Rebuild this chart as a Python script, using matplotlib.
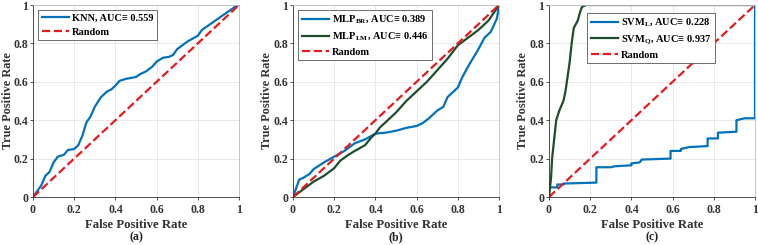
import matplotlib
matplotlib.use('Agg')
import matplotlib.pyplot as plt

plt.rcParams['font.family'] = ['Liberation Serif', 'DejaVu Serif']
plt.rcParams['font.weight'] = 'bold'
plt.rcParams['mathtext.fontset'] = 'custom'
plt.rcParams['mathtext.rm'] = 'Liberation Serif:bold'
plt.rcParams['mathtext.bf'] = 'Liberation Serif:bold'

BLUE = '#0072BD'
GREEN = '#1d4d2b'
RED = '#e8191c'

# (a) KNN
knn_fpr = [0, 0.02, 0.04, 0.06, 0.08, 0.1, 0.12, 0.15, 0.17, 0.2, 0.22, 0.24, 0.26, 0.28, 0.3,
           0.33, 0.36, 0.38, 0.4, 0.42, 0.45, 0.5, 0.52, 0.55, 0.58, 0.6, 0.63, 0.66, 0.68, 0.7,
           0.75, 0.8, 0.82, 0.86, 0.9, 0.94, 0.98, 1]
knn_tpr = [0, 0.03, 0.06, 0.11, 0.13, 0.18, 0.21, 0.22, 0.245, 0.25, 0.27, 0.32, 0.39, 0.42, 0.47,
           0.52, 0.55, 0.56, 0.58, 0.605, 0.615, 0.625, 0.64, 0.655, 0.68, 0.705, 0.725, 0.73, 0.74, 0.77,
           0.81, 0.84, 0.87, 0.9, 0.93, 0.96, 0.99, 1]

# (b) MLP
mlp_br_fpr = [0, 0.01, 0.03, 0.05, 0.08, 0.1, 0.15, 0.2, 0.25, 0.3, 0.35, 0.4, 0.45, 0.5, 0.55,
              0.6, 0.63, 0.66, 0.7, 0.73, 0.75, 0.8, 0.82, 0.85, 0.9, 0.93, 0.96, 0.99, 1]
mlp_br_tpr = [0, 0.03, 0.09, 0.1, 0.12, 0.145, 0.18, 0.21, 0.24, 0.28, 0.3, 0.33, 0.335, 0.345, 0.36,
              0.37, 0.385, 0.41, 0.45, 0.47, 0.52, 0.57, 0.62, 0.68, 0.77, 0.83, 0.86, 0.93, 1]
mlp_lm_fpr = [0, 0.05, 0.1, 0.15, 0.2, 0.23, 0.27, 0.3, 0.35, 0.38, 0.4, 0.42, 0.45, 0.5, 0.55,
              0.6, 0.65, 0.7, 0.75, 0.8, 0.85, 0.9, 0.95, 1]
mlp_lm_tpr = [0, 0.04, 0.08, 0.11, 0.15, 0.19, 0.22, 0.24, 0.27, 0.31, 0.33, 0.36, 0.39, 0.44, 0.5,
              0.55, 0.6, 0.66, 0.72, 0.79, 0.83, 0.87, 0.92, 1]

# (c) SVM
svm_l_fpr = [0, 0, 0.04, 0.04, 0.07, 0.07, 0.23, 0.23, 0.3, 0.32, 0.4, 0.4, 0.44, 0.45, 0.59, 0.59,
             0.64, 0.64, 0.68, 0.77, 0.77, 0.82, 0.82, 0.91, 0.91, 0.95, 1, 1]
svm_l_tpr = [0, 0.05, 0.05, 0.065, 0.065, 0.07, 0.075, 0.155, 0.155, 0.16, 0.165, 0.175, 0.18, 0.195,
             0.2, 0.24, 0.24, 0.25, 0.26, 0.265, 0.305, 0.305, 0.335, 0.34, 0.4, 0.41, 0.41, 1]
svm_q_fpr = [0, 0.005, 0.01, 0.015, 0.02, 0.03, 0.035, 0.05, 0.07, 0.08, 0.1, 0.11, 0.12, 0.14,
             0.15, 0.16, 0.18, 1]
svm_q_tpr = [0, 0.05, 0.1, 0.2, 0.25, 0.35, 0.4, 0.45, 0.5, 0.55, 0.7, 0.8, 0.88, 0.92,
             0.96, 0.99, 1.0, 1]

panels = [
    ([(knn_fpr, knn_tpr, BLUE, 'KNN, AUC≡ 0.559')], '(a)'),
    ([(mlp_br_fpr, mlp_br_tpr, BLUE, r'MLP$_{\mathrm{BR}}$, AUC≡ 0.389'),
      (mlp_lm_fpr, mlp_lm_tpr, GREEN, r'MLP$_{\mathrm{LM}}$, AUC≡ 0.446')], '(b)'),
    ([(svm_l_fpr, svm_l_tpr, BLUE, r'SVM$_{\mathrm{L}}$, AUC≡ 0.228'),
      (svm_q_fpr, svm_q_tpr, GREEN, r'SVM$_{\mathrm{Q}}$, AUC≡ 0.937')], '(c)'),
]

fig = plt.figure(figsize=(7.58, 2.45), dpi=100)
lefts = [33, 293, 549]
ylab_x = [-0.094, -0.097, -0.097]
for (curves, tag), left, lx in zip(panels, lefts, ylab_x):
    ax = fig.add_axes([left / 758, 1 - 197 / 245, 206 / 758, 192 / 245])
    for x, y, c, lab in curves:
        ax.plot(x, y, color=c, lw=1.6, label=lab)
    ax.plot([0, 1], [0, 1], '--', color=RED, lw=1.6, label='Random')
    ax.set_xlim(0, 1)
    ax.set_ylim(0, 1)
    ax.set_xticks([0, 0.2, 0.4, 0.6, 0.8, 1])
    ax.set_yticks([0, 0.2, 0.4, 0.6, 0.8, 1])
    ax.set_xticklabels(['0', '0.2', '0.4', '0.6', '0.8', '1'])
    ax.set_yticklabels(['0', '0.2', '0.4', '0.6', '0.8', '1'])
    ax.tick_params(labelsize=8.5, length=2, width=0.6, colors='#333333', pad=3)
    ax.tick_params(axis='y', pad=1.5)
    ax.grid(True, color='#e4e4e4', lw=0.6)
    for s in ['top', 'right']:
        ax.spines[s].set_color('#bbbbbb')
    for s in ['left', 'bottom']:
        ax.spines[s].set_color('#333333')
    for s in ax.spines.values():
        s.set_linewidth(0.6)
    ax.set_xlabel('False Positive Rate', fontsize=9.2, fontweight='bold', color='#333333', labelpad=2)
    ax.set_ylabel('True Positive Rate', fontsize=8.8, fontweight='bold', color='#333333')
    ax.yaxis.set_label_coords(lx, 0.5)
    ax.text(0.5, -0.18, tag, transform=ax.transAxes, ha='center', va='top',
            fontsize=8.5, fontweight='bold', color='#222222')
    if tag == '(c)':
        leg = ax.legend(loc='upper left', bbox_to_anchor=(0.16, 0.985), fontsize=7.5,
                        handlelength=2.6, borderpad=0.35, labelspacing=0.4,
                        fancybox=False, framealpha=1, handletextpad=0.3)
    else:
        leg = ax.legend(loc='upper left', fontsize=7.5, handlelength=2.6, borderpad=0.35,
                        labelspacing=0.4, fancybox=False, framealpha=1, handletextpad=0.3)
    leg.get_frame().set_edgecolor('#555555')
    leg.get_frame().set_linewidth(0.6)

fig.savefig('out.png', dpi=100)
